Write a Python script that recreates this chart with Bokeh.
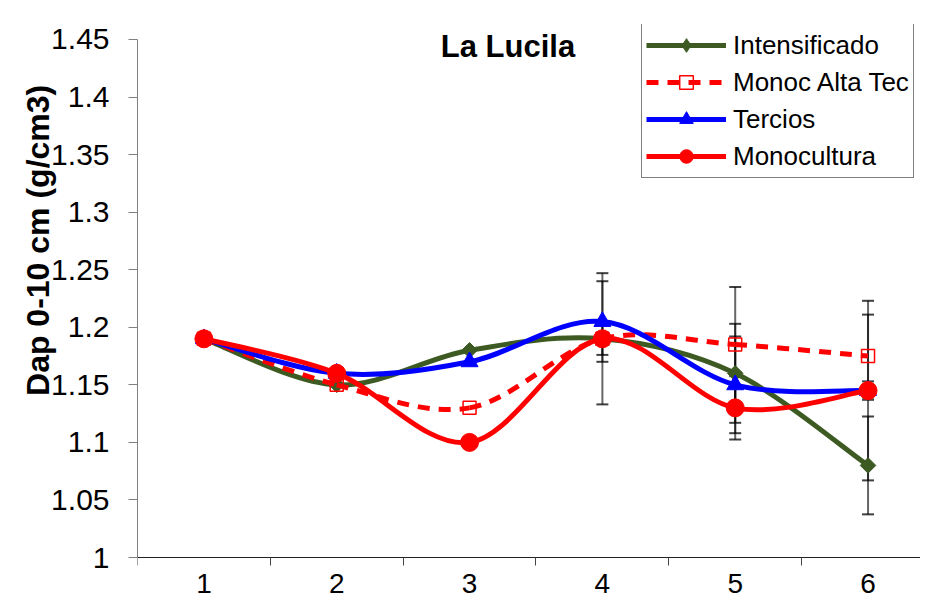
import math
from bokeh.plotting import figure
from bokeh.models import (Range1d, FixedTicker, NumeralTickFormatter, Label,
                          Legend, LegendItem, ColumnDataSource)
from bokeh.embed import file_html
from bokeh.resources import INLINE

# ---------------- data ----------------
categories = [1, 2, 3, 4, 5, 6]
series_names = ["Intensificado", "Monoc Alta Tec", "Tercios", "Monocultura"]
intensificado = [1.19, 1.15, 1.18, 1.19, 1.16, 1.08]
monoc_alta_tec = [1.19, 1.15, 1.13, 1.19, 1.185, 1.175]
tercios = [1.19, 1.16, 1.17, 1.205, 1.15, 1.145]
monocultura = [1.19, 1.16, 1.10, 1.19, 1.13, 1.145]
err_intensificado = [0, 0, 0, 0.057, 0.043, 0.0425]
err_monoc_alta_tec = [0, 0, 0, 0.014, 0.05, 0.036]
err_tercios = [0, 0, 0, 0.035, 0.042, 0.078]
err_monocultura = [0, 0, 0, 0, 0.0275, 0.008]
y_ticks = [1.0, 1.05, 1.1, 1.15, 1.2, 1.25, 1.3, 1.35, 1.4, 1.45]
title_text = "La Lucila"
y_title = "Dap 0-10 cm (g/cm3)"

W, H = 920, 598
FONT = "'Liberation Sans', Arial, sans-serif"

p = figure(width=W, height=H, output_backend="svg", toolbar_location=None,
           x_range=Range1d(0.5, 6.395), y_range=Range1d(0.9644, 1.463),
           min_border_left=137, min_border_right=0, min_border_top=24,
           min_border_bottom=0, title=None)
p.outline_line_color = None
p.background_fill_color = "white"
p.border_fill_color = "white"
p.xgrid.visible = False
p.ygrid.visible = False

# y axis
p.yaxis.ticker = FixedTicker(ticks=y_ticks)
p.yaxis.bounds = (y_ticks[0], y_ticks[-1])
p.yaxis.formatter = NumeralTickFormatter(format="0.[00]")
p.yaxis.major_label_text_font = FONT
p.yaxis.major_label_text_font_size = "30px"
p.yaxis.major_label_text_color = "black"
p.yaxis.major_tick_out = 9
p.yaxis.major_tick_in = 0
p.yaxis.minor_tick_out = 0
p.yaxis.minor_tick_in = 0
p.yaxis.major_label_standoff = 19
p.yaxis.axis_line_color = "#808080"
p.yaxis.major_tick_line_color = "#808080"
p.yaxis.axis_label = "\u00a0" * 16 + y_title
p.yaxis.axis_label_text_font = FONT
p.yaxis.axis_label_text_font_style = "bold"
p.yaxis.axis_label_text_font_size = "32px"
p.yaxis.axis_label_text_color = "black"
p.yaxis.axis_label_standoff = -8

# x axis
bounds = [c - 0.5 for c in categories] + [categories[-1] + 0.5]
p.xaxis.fixed_location = y_ticks[0]
p.xaxis.ticker = FixedTicker(ticks=categories, minor_ticks=bounds)
p.xaxis.major_label_text_font = "'Liberation Sans Narrow', 'Liberation Sans', Arial"
p.xaxis.major_label_text_font_size = "28px"
p.xaxis.major_label_text_color = "black"
p.xaxis.major_tick_out = 0
p.xaxis.major_tick_in = 0
p.xaxis.minor_tick_out = 8
p.xaxis.minor_tick_in = 0
p.xaxis.major_label_standoff = 8
p.xaxis.axis_line_color = "#222222"
p.xaxis.minor_tick_line_color = "#444444"

# error bars
for vals, errs in [(intensificado, err_intensificado), (monoc_alta_tec, err_monoc_alta_tec),
                   (tercios, err_tercios), (monocultura, err_monocultura)]:
    xs = [c for c, e in zip(categories, errs) if e > 0]
    lo = [v - e for v, e in zip(vals, errs) if e > 0]
    hi = [v + e for v, e in zip(vals, errs) if e > 0]
    if not xs:
        continue
    p.segment(x0=xs, y0=lo, x1=xs, y1=hi, line_color="black", line_alpha=0.6, line_width=2)
    p.scatter(x=xs + xs, y=lo + hi, marker="dash", size=12, line_color="black",
              line_alpha=0.75, line_width=2)


def smooth(xs, ys):
    n = len(xs)
    d = dict(x0=[], y0=[], x1=[], y1=[], cx0=[], cy0=[], cx1=[], cy1=[])
    for i in range(n - 1):
        a = max(i - 1, 0)
        b = min(i + 2, n - 1)
        d["x0"].append(xs[i]); d["y0"].append(ys[i])
        d["x1"].append(xs[i + 1]); d["y1"].append(ys[i + 1])
        d["cx0"].append(xs[i] + (xs[i + 1] - xs[a]) / 6)
        d["cy0"].append(ys[i] + (ys[i + 1] - ys[a]) / 6)
        d["cx1"].append(xs[i + 1] - (xs[b] - xs[i]) / 6)
        d["cy1"].append(ys[i + 1] - (ys[b] - ys[i]) / 6)
    return ColumnDataSource(d)


styles = [
    dict(color="#3C5A22", dash="solid", marker="square", angle=math.pi / 4, size=11,
         fill="#3C5A22", lw=1, legend_marker="diamond"),
    dict(color="#FF0000", dash="12 9", marker="square", angle=0, size=13, fill=None, lw=1.5,
         legend_marker=None),
    dict(color="#0000FF", dash="solid", marker="triangle", angle=0, size=17, fill="#0000FF", lw=1,
         legend_marker=None),
    dict(color="#FF0000", dash="solid", marker="circle", angle=0, size=18, fill="#FF0000", lw=1,
         legend_marker=None),
]
all_vals = [intensificado, monoc_alta_tec, tercios, monocultura]

items = []
for name, vals, st in zip(series_names, all_vals, styles):
    src = smooth(categories, vals)
    br = p.bezier(x0="x0", y0="y0", x1="x1", y1="y1", cx0="cx0", cy0="cy0",
                  cx1="cx1", cy1="cy1", source=src, line_color=st["color"],
                  line_width=5, line_dash=st["dash"])
    lr = None
    if st["legend_marker"]:
        # tiny swatch renderer hidden under the real markers; draws the legend diamond
        lr = p.scatter(x=categories, y=vals, marker=st["legend_marker"], size=1,
                       line_color=st["color"], fill_color=st["fill"], line_width=st["lw"])
    sr = p.scatter(x=categories, y=vals, marker=st["marker"], size=st["size"],
                   angle=st["angle"], line_color=st["color"], fill_color=st["fill"],
                   line_width=st["lw"])
    items.append(LegendItem(label=name, renderers=[br, lr if lr is not None else sr]))

legend = Legend(items=items, location=(504, 420), orientation="vertical",
                label_text_font=FONT, label_text_font_size="26px",
                label_text_color="black", glyph_width=80, glyph_height=34,
                label_height=34, label_standoff=7, spacing=3, padding=4,
                margin=0, border_line_color="black", border_line_width=1,
                background_fill_color="white", background_fill_alpha=1)
p.add_layout(legend)

p.add_layout(Label(x=3.289, y=1.4439, text=title_text, text_font=FONT,
                   text_font_style="bold", text_font_size="31px",
                   text_align="center", text_baseline="middle", text_color="black"))

open("out.html", "w").write(file_html(p, INLINE))
